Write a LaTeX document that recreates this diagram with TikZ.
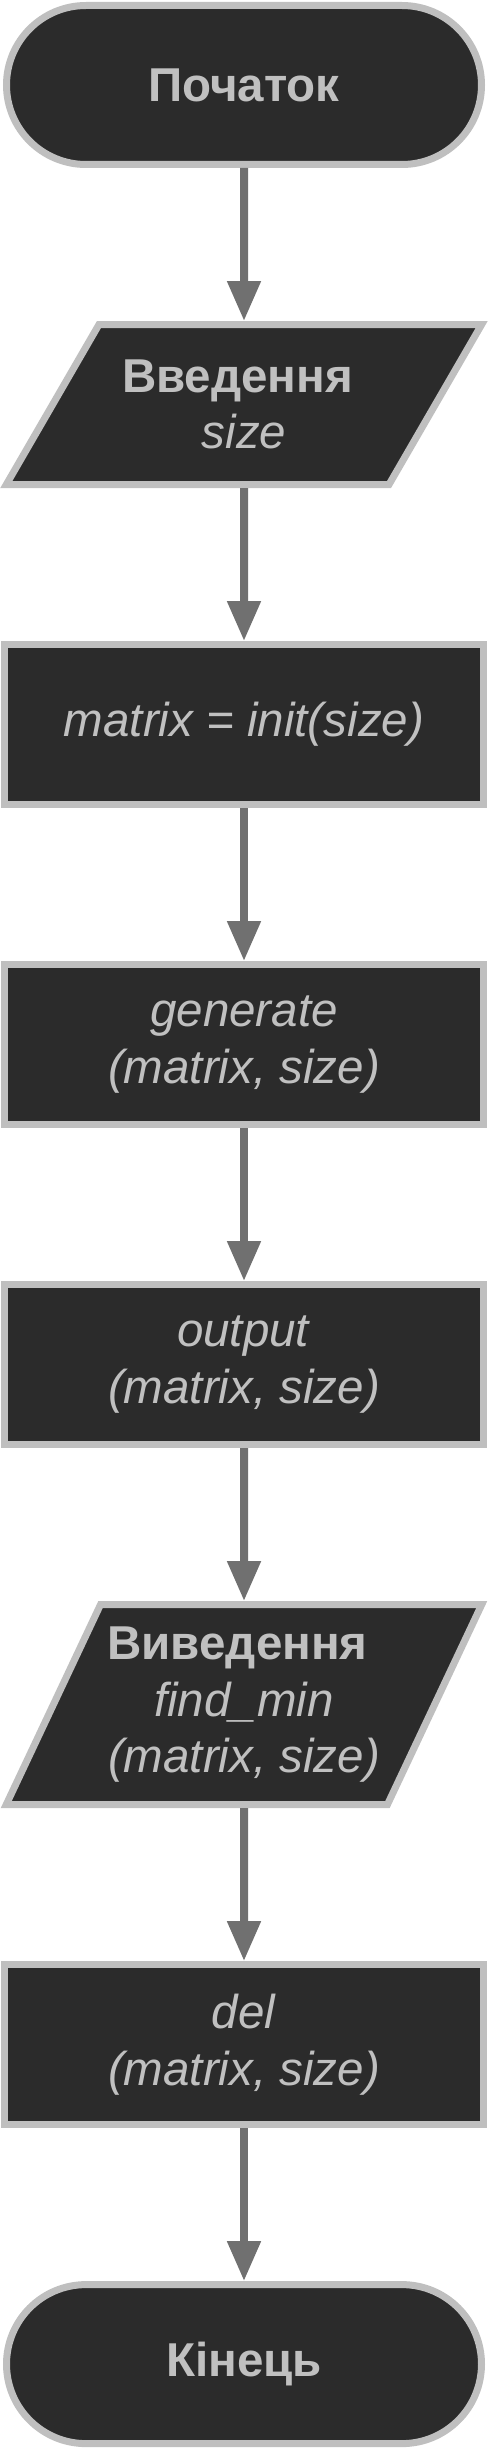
\documentclass[tikz,border=0pt]{standalone}
\usepackage{fontspec}
\setmainfont{Liberation Sans}
\usetikzlibrary{positioning,shapes.geometric,arrows.meta}
\definecolor{boxfill}{HTML}{2B2B2B}
\definecolor{boxline}{HTML}{BFBFBF}
\definecolor{boxtext}{HTML}{C0C0C0}
\definecolor{arrowgray}{HTML}{707070}

\begin{document}
\begin{tikzpicture}[x=1pt,y=1pt,
  node distance=153pt,
  block/.style={draw=boxline,fill=boxfill,line width=7pt,text=boxtext,align=center,
    font=\fontsize{47.5}{56.5}\selectfont,minimum width=479pt,minimum height=160pt,inner sep=0pt},
  term/.style={block,minimum width=475pt,minimum height=159pt,rounded corners=79.5pt},
  io/.style={block,trapezium,trapezium left angle=#1,trapezium right angle=180-#1,
    trapezium stretches=true,minimum width=478pt},
  flow/.style={draw=arrowgray,line width=8pt,-{Triangle[width=32pt,length=40pt]}}]
\useasboundingbox (0,0) rectangle (488,-2448);
% blocks
\node[term] (start) at (244,-85) {\textbf{Початок}};
\node[io=49,below=of start] (input) {\textbf{Введення}\hspace*{13pt} \\ \textit{size}};
\node[block,below=of input] (init) {\textit{matrix = init(size)}};
\node[block,below=of init] (gen) {\textit{generate} \\ \textit{(matrix, size)}};
\node[block,below=of gen] (out) {\textit{output} \\ \textit{(matrix, size)}};
\node[io=60,below=of out,minimum height=200pt] (result) {\textbf{Виведення}\hspace*{13pt} \\ \textit{find\_min} \\ \textit{(matrix, size)}};
\node[block,below=of result] (del) {\textit{del} \\ \textit{(matrix, size)}};
\node[term,below=of del] (end) {\textbf{Кінець}};
% arrows
\draw[flow] (start) -- (input);
\draw[flow] (input) -- (init);
\draw[flow] (init) -- (gen);
\draw[flow] (gen) -- (out);
\draw[flow] (out) -- (result);
\draw[flow] (result) -- (del);
\draw[flow] (del) -- (end);
\end{tikzpicture}
\end{document}
